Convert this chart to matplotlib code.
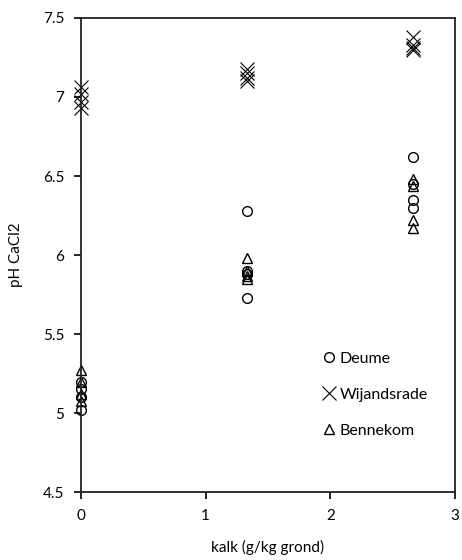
import matplotlib
matplotlib.use("Agg")
import matplotlib.pyplot as plt

plt.rcParams['font.family'] = ['Lato', 'DejaVu Sans']

doses = [0.0, 4/3, 8/3]
deume = [[5.20, 5.15, 5.10, 5.02], [6.28, 5.90, 5.88, 5.73], [6.62, 6.45, 6.35, 6.30]]
wijandsrade = [[7.06, 7.02, 6.97, 6.93], [7.18, 7.15, 7.12, 7.10], [7.38, 7.33, 7.31, 7.30]]
bennekom = [[5.27, 5.20, 5.12, 5.08], [5.98, 5.90, 5.87, 5.85], [6.48, 6.44, 6.22, 6.17]]
series_names = ["Deume", "Wijandsrade", "Bennekom"]
xticks = [0, 1, 2, 3]
yticks = [4.5, 5, 5.5, 6, 6.5, 7, 7.5]
ytick_labels = ["4.5", "5", "5.5", "6", "6.5", "7", "7.5"]

fig = plt.figure(figsize=(4.62, 5.6), dpi=100)
ax = fig.add_axes([0.175, 0.121, 0.81, 0.847])

markers = ['o', 'x', '^']
sizes = [7, 10, 7]
for name, data, m, s in zip(series_names, [deume, wijandsrade, bennekom], markers, sizes):
    xs, ys = [], []
    for d, vals in zip(doses, data):
        for v in vals:
            xs.append(d)
            ys.append(v)
    if m == 'x':
        ax.plot(xs, ys, linestyle='none', marker=m, markersize=s, color='black',
                markeredgewidth=0.8, label=name, clip_on=False)
    else:
        ax.plot(xs, ys, linestyle='none', marker=m, markersize=s, markerfacecolor='none',
                markeredgecolor='black', markeredgewidth=1.0, label=name, clip_on=False)

ax.set_xlim(0, 3)
ax.set_ylim(4.5, 7.5)
ax.set_xticks(xticks)
ax.set_yticks(yticks)
ax.set_yticklabels(ytick_labels)
ax.tick_params(direction='out', length=5, width=1.2, labelsize=11, colors='black', pad=7)
for sp in ax.spines.values():
    sp.set_linewidth(1.3)
    sp.set_color('#222222')
ax.set_xlabel("kalk (g/kg grond)", fontsize=11, labelpad=12)
ax.set_ylabel("pH CaCl2", fontsize=11, labelpad=14)

leg = ax.legend(loc='lower right', bbox_to_anchor=(0.965, 0.085), frameon=False,
                fontsize=11.5, handlelength=0.9, handletextpad=0.2, labelspacing=1.35,
                markerscale=1.0)

fig.savefig("out.png", dpi=100)
